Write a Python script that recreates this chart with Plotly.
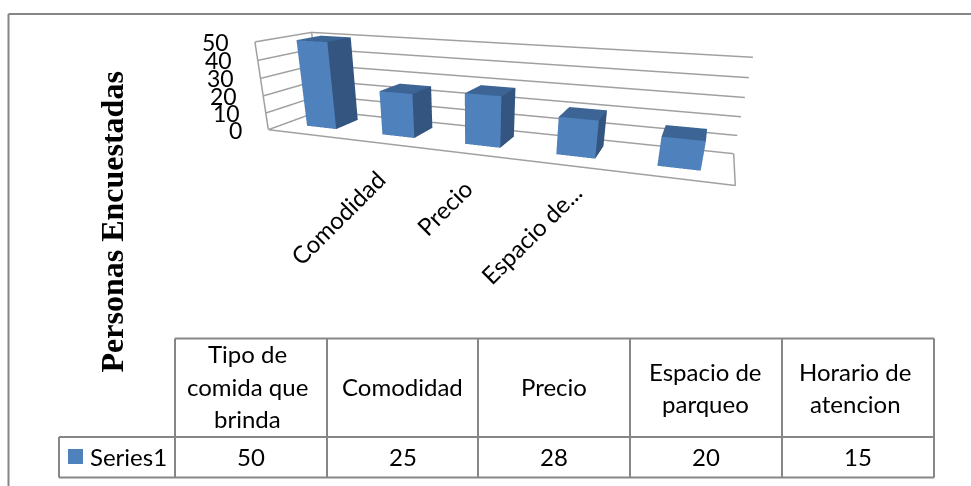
import plotly.graph_objects as go

categories = ["Tipo de comida que brinda", "Comodidad", "Precio", "Espacio de parqueo", "Horario de atencion"]
header_lines = [["Tipo de", "comida que", "brinda"], ["Comodidad"], ["Precio"], ["Espacio de", "parqueo"], ["Horario de", "atencion"]]
axis_labels = ["Comodidad", "Precio", "Espacio de..."]
values = [50, 25, 28, 20, 15]
ticks = [0, 10, 20, 30, 40, 50]
series_name = "Series1"
y_title = "Personas Encuestadas"

W, Ht = 971, 486
FRONT, SIDE, TOP = "#4F81BD", "#33557F", "#3C6595"
GRID, LINE = "#A0A0A0", "#868686"
FONT, SIZE = "Lato", 24

# bar footprint in axis units
BAR_W, DEPTH_MID, DEPTH = 0.3974, 0.5363, 0.4597

fig = go.Figure()
for i, v in enumerate(values):
    x0, x1 = i + .5 - BAR_W / 2, i + .5 + BAR_W / 2
    y0, y1 = DEPTH_MID - DEPTH / 2, DEPTH_MID + DEPTH / 2
    fig.add_trace(go.Mesh3d(
        x=[x0, x1, x1, x0, x0, x1, x1, x0],
        y=[y0, y0, y1, y1, y0, y0, y1, y1],
        z=[0, 0, 0, 0, v, v, v, v],
        i=[0, 0, 1, 1, 4, 4, 3, 3, 0, 0],
        j=[1, 5, 2, 6, 5, 6, 2, 6, 3, 7],
        k=[5, 4, 6, 5, 6, 7, 6, 7, 7, 4],
        facecolor=[FRONT] * 2 + [SIDE] * 2 + [TOP] * 2 + [SIDE] * 4,
        flatshading=True,
        lighting=dict(ambient=1, diffuse=0, specular=0, fresnel=0, roughness=1),
        hoverinfo="skip", showscale=False))

top, n = max(ticks), len(values)
lx, ly, lz = [], [], []
for t in ticks:
    lx += [0, 0, n, None]; ly += [0, 1, 1, None]; lz += [t, t, t, None]
lx += [0, n, n, None, 0, 0, None, 0, 0, None]
ly += [0, 0, 1, None, 0, 0, None, 1, 1, None]
lz += [0, 0, 0, None, 0, top, None, 0, top, None]
fig.add_trace(go.Scatter3d(x=lx, y=ly, z=lz, mode="lines", line=dict(color=GRID, width=3),
                           hoverinfo="skip", showlegend=False))

def px(x): return x / W
def py(y): return 1 - y / Ht

shapes, anns = [], []
def seg(x0, y0, x1, y1):
    shapes.append(dict(type="line", xref="paper", yref="paper", x0=px(x0), y0=py(y0), x1=px(x1), y1=py(y1),
                       line=dict(color=LINE, width=2)))
def txt(x, y, t, size=SIZE, angle=0, family=FONT, anchor="center"):
    anns.append(dict(x=px(x), y=py(y), xref="paper", yref="paper", xanchor=anchor, yanchor="middle", text=t,
                     showarrow=False, textangle=angle, font=dict(family=family, size=size, color="black")))

seg(8.5, 14, 971, 14); seg(8.5, 14, 8.5, 486)
cols = [175, 327, 478, 630, 782, 934]
for x in cols:
    seg(x, 338.5, x, 477.5)
seg(59, 437, 59, 477.5)
seg(175, 338.5, 934, 338.5); seg(59, 437, 934, 437); seg(59, 477.5, 934, 477.5)
shapes.append(dict(type="rect", xref="paper", yref="paper", x0=px(68), x1=px(83), y0=py(464), y1=py(449),
                   fillcolor=FRONT, line=dict(width=0)))

line_y = {1: [386], 2: [371, 403], 3: [353, 386, 418]}
header_dx = [-3.5, 0, 0, -1, -3]
for i, (ls, v) in enumerate(zip(header_lines, values)):
    xc = (cols[i] + cols[i + 1]) / 2
    for l, y in zip(ls, line_y[len(ls)]):
        txt(xc + header_dx[i], y, l)
    txt(xc, 456, str(v))
txt(88, 456, series_name, anchor="left")
for l, (x, y) in zip(axis_labels, [(337.5, 217), (444, 207), (531, 233)]):
    txt(x, y, l, angle=-45)
txt(111, 222.5, "<b>%s</b>" % y_title, size=32, angle=-90, family="Liberation Serif")

scene_anns = [dict(x=0, y=0, z=t, text=str(t), showarrow=False, xanchor="right", yanchor="middle", xshift=-24,
                   font=dict(family=FONT, size=23, color="black")) for t in ticks]
ax = dict(visible=False, showgrid=False, zeroline=False, showbackground=False)
fig.update_layout(
    width=W, height=Ht, margin=dict(l=0, r=0, t=0, b=0), paper_bgcolor="white", showlegend=False,
    shapes=shapes, annotations=anns,
    scene=dict(
        domain=dict(x=[0, 1], y=[0, 1]), annotations=scene_anns,
        xaxis=dict(ax, range=[0, n]), yaxis=dict(ax, range=[0, 1]), zaxis=dict(ax, range=[0, top]),
        aspectmode="manual", aspectratio=dict(x=2.5134, y=0.5140, z=0.4814),
        camera=dict(eye=dict(x=1.0534, y=-2.9512, z=0.6487), center=dict(x=0.4623, y=-1.3156, z=-0.1885),
                    up=dict(x=-0.4162, y=1.1058, z=1), projection=dict(type="perspective"))))
fig.write_html("out.html", config=dict(displayModeBar=False),
               post_script="document.body.style.margin='0';document.documentElement.style.overflow='hidden';")
